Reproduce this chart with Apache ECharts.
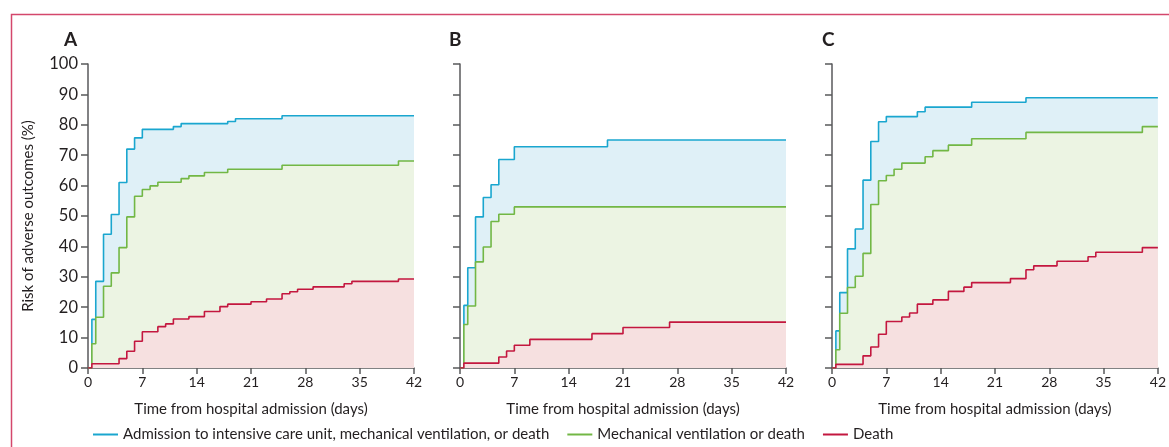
<!DOCTYPE html>
<html>
<head>
<meta charset="utf-8">
<script src="https://cdn.jsdelivr.net/npm/echarts@6/dist/echarts.min.js"></script>
<style>
  html, body { margin: 0; padding: 0; background: #fff; }
  #chart { width: 1169px; height: 447px; }
</style>
</head>
<body>
<div id="chart"></div>
<script>
// step times (days) and cumulative risk (%)
var icuA_t = [0, 0.5, 1, 2, 3, 4, 5, 6, 7, 11, 12, 18, 19, 25, 42];
var icuA_v = [0, 16, 28.5, 44, 50.5, 61, 72, 75.7, 78.5, 79.4, 80.4, 81.1, 82, 83, 83];
var mvA_t = [0, 0.5, 1, 2, 3, 4, 5, 6, 7, 8, 9, 12, 13, 15, 18, 25, 40, 42];
var mvA_v = [0, 8, 16.7, 26.9, 31.3, 39.6, 49.7, 56.5, 58.7, 59.9, 61.1, 62.3, 63.2, 64.3, 65.4, 66.7, 68.1, 68.1];
var deathA_t = [0, 0.5, 4, 5, 6, 7, 9, 10, 11, 13, 15, 17, 18, 21, 23, 25, 26, 27, 29, 33, 34, 40, 42];
var deathA_v = [0, 1.4, 3.1, 5.5, 8.8, 11.9, 13.6, 14.5, 16.1, 16.9, 18.6, 20.2, 21, 21.8, 22.7, 24.4, 25.1, 25.9, 26.7, 27.7, 28.5, 29.3, 29.3];

var icuB_t = [0, 0.5, 1, 2, 3, 4, 5, 7, 19, 42];
var icuB_v = [0, 20.6, 33, 49.7, 56.1, 60.3, 68.6, 72.8, 75, 75];
var mvB_t = [0, 0.5, 1, 2, 3, 4, 5, 7, 42];
var mvB_v = [0, 14.3, 20.4, 34.9, 39.8, 48.2, 50.6, 53, 53];
var deathB_t = [0, 0.5, 5, 6, 7, 9, 17, 21, 27, 42];
var deathB_v = [0, 1.6, 3.6, 5.6, 7.5, 9.4, 11.3, 13.3, 15.1, 15.1];

var icuC_t = [0, 0.5, 1, 2, 3, 4, 5, 6, 7, 11, 12, 18, 25, 42];
var icuC_v = [0, 12.2, 24.8, 39.2, 45.7, 61.8, 74.5, 81, 82.7, 84.3, 85.8, 87.4, 88.9, 88.9];
var mvC_t = [0, 0.5, 1, 2, 3, 4, 5, 6, 7, 8, 9, 12, 13, 15, 18, 25, 40, 42];
var mvC_v = [0, 6, 18, 26.5, 30.2, 37.7, 53.8, 61.6, 63.3, 65.4, 67.4, 69.5, 71.5, 73.3, 75.4, 77.5, 79.4, 79.4];
var deathC_t = [0, 0.5, 4, 5, 6, 7, 9, 10, 11, 13, 15, 17, 18, 23, 25, 26, 29, 33, 34, 40, 42];
var deathC_v = [0, 1.2, 4, 6.9, 11.1, 15.3, 16.8, 18.1, 21, 22.4, 25.2, 26.6, 28.1, 29.4, 32.3, 33.6, 35.1, 36.6, 38.1, 39.6, 39.6];

var panelLabels = ['A', 'B', 'C'];
var seriesNames = [
  'Admission to intensive care unit, mechanical ventilation, or death',
  'Mechanical ventilation or death',
  'Death'
];
var xTicks = [0, 7, 14, 21, 28, 35, 42];

var lineColors = ['#1aa6cf', '#72b745', '#c3173f'];
var fillColors = ['#dff0f7', '#ecf4e3', '#f6e0e0'];
var font = 'Lato, "Liberation Sans", sans-serif';
var axisCol = '#58595b';
var textCol = '#231f20';

var panels = [
  [[icuA_t, icuA_v], [mvA_t, mvA_v], [deathA_t, deathA_v]],
  [[icuB_t, icuB_v], [mvB_t, mvB_v], [deathB_t, deathB_v]],
  [[icuC_t, icuC_v], [mvC_t, mvC_v], [deathC_t, deathC_v]]
];

function zip(t, v) {
  return t.map(function (x, i) { return [x, v[i]]; });
}

var lefts = [88, 460, 832];
var letterLefts = [64, 449, 822];
var grids = [], xAxes = [], yAxes = [], series = [], titles = [];

lefts.forEach(function (l, p) {
  grids.push({ left: l, top: 64, width: 326, height: 304 });
  titles.push({
    text: panelLabels[p], left: letterLefts[p], top: 30, padding: 0,
    textStyle: { fontFamily: font, fontSize: 19, fontWeight: 'bold', color: textCol }
  });
  xAxes.push({
    type: 'value', gridIndex: p, min: 0, max: 42, interval: 7,
    name: 'Time from hospital admission (days)', nameLocation: 'middle', nameGap: 34,
    nameTextStyle: { fontFamily: font, fontSize: 15, color: textCol },
    axisLine: { lineStyle: { color: axisCol, width: 1.5 } },
    axisTick: { length: 6, lineStyle: { color: axisCol, width: 1.5 } },
    axisLabel: { fontFamily: font, fontSize: 14, color: textCol, margin: 7,
      formatter: function (v) { return xTicks.indexOf(v) >= 0 ? String(v) : ''; } },
    splitLine: { show: false }
  });
  yAxes.push({
    type: 'value', gridIndex: p, min: 0, max: 100, interval: 10,
    name: p === 0 ? 'Risk of adverse outcomes (%)' : '', nameLocation: 'middle', nameGap: 52,
    nameTextStyle: { fontFamily: font, fontSize: 15, color: textCol },
    axisLine: { show: true, lineStyle: { color: axisCol, width: 1.5 } },
    axisTick: { show: true, length: 7, lineStyle: { color: axisCol, width: 1.5 } },
    axisLabel: { show: p === 0, fontFamily: font, fontSize: 16.5, color: textCol, margin: 10 },
    splitLine: { show: false }
  });
  panels[p].forEach(function (s, k) {
    series.push({
      name: seriesNames[k], type: 'line', step: 'end',
      xAxisIndex: p, yAxisIndex: p,
      data: zip(s[0], s[1]),
      showSymbol: false, symbol: 'none',
      lineStyle: { color: lineColors[k], width: 1.6 },
      itemStyle: { color: lineColors[k] },
      areaStyle: { color: fillColors[k], opacity: 1 },
      z: 2 + k, animation: false
    });
  });
});

var chart = echarts.init(document.getElementById('chart'));
chart.setOption({
  animation: false,
  title: titles,
  grid: grids,
  xAxis: xAxes,
  yAxis: yAxes,
  series: series,
  legend: {
    data: seriesNames, left: 88, top: 422,
    icon: 'rect', itemWidth: 25, itemHeight: 2, itemGap: 18,
    textStyle: { fontFamily: font, fontSize: 15, color: textCol }
  },
  graphic: [{
    type: 'rect', left: 9, top: 12,
    shape: { width: 1250, height: 500 },
    style: { fill: null, stroke: '#d4476c', lineWidth: 1.5 },
    silent: true
  }]
});
</script>
</body>
</html>
